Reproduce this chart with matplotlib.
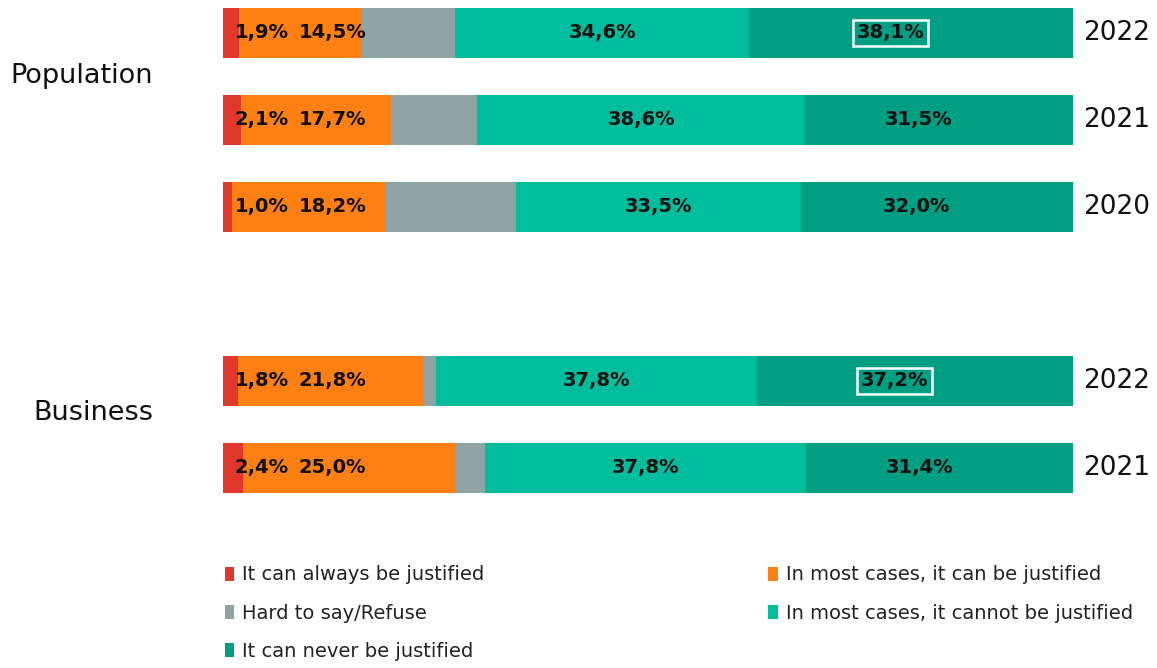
import numpy as np
import matplotlib.pyplot as plt

# Datos (%)
years = ['2022', '2021', '2020', '2022', '2021']
groups = ['Population', 'Business']
always = [1.9, 2.1, 1.0, 1.8, 2.4]
most_can = [14.5, 17.7, 18.2, 21.8, 25.0]
hard = [10.9, 10.1, 15.3, 1.4, 3.4]
most_cannot = [34.6, 38.6, 33.5, 37.8, 37.8]
never = [38.1, 31.5, 32.0, 37.2, 31.4]
boxed = [True, False, False, True, False]

series = [always, most_can, hard, most_cannot, never]
names = ['It can always be justified', 'In most cases, it can be justified',
         'Hard to say/Refuse', 'In most cases, it cannot be justified',
         'It can never be justified']
colors = ['#E0382B', '#FF8012', '#90A4A4', '#00BE9D', '#009E82']

fmt = lambda v: f'{v:.1f}%'.replace('.', ',')

fig = plt.figure(figsize=(11.57, 6.68), dpi=100)
ax = fig.add_axes([223 / 1157, 1 - 540 / 668, 850 / 1157, 540 / 668])

ypos = np.array([0, 1, 2, 4, 5])
left = np.zeros(len(ypos))
bars = []
for vals, name, col in zip(series, names, colors):
    b = ax.barh(ypos, vals, left=left, height=0.57, color=col, label=name)
    bars.append(b)
    left += np.array(vals)

lab = dict(fontsize=14, fontweight='bold', color='#111111', va='center')
for i, y in enumerate(ypos):
    ax.text(1.4, y, fmt(always[i]), ha='left', **lab)
    ax.text(8.9, y, fmt(most_can[i]), ha='left', **lab)
    start = always[i] + most_can[i] + hard[i]
    ax.text(start + most_cannot[i] / 2, y, fmt(most_cannot[i]), ha='center', **lab)
    start += most_cannot[i]
    box = dict(boxstyle='square,pad=0.2', fc='none', ec='white', lw=1.8) if boxed[i] else None
    ax.text(start + never[i] / 2 - 2.4, y, fmt(never[i]), ha='center', bbox=box, **lab)
    ax.text(101.2, y, years[i], ha='left', va='center', fontsize=19, color='#111111')

ax.text(-8.2, 0.5, groups[0], ha='right', va='center', fontsize=19.5, color='#111111')
ax.text(-8.2, 4.37, groups[1], ha='right', va='center', fontsize=19.5, color='#111111')

ax.set_xlim(0, 100)
ax.set_ylim(5.828, -0.379)
ax.axis('off')

order = [0, 2, 4, 1, 3]
fig.legend([bars[k] for k in order], [names[k] for k in order],
           loc='upper left', bbox_to_anchor=(207 / 1157, 1 - 548 / 668),
           ncol=2, frameon=False, fontsize=14, handlelength=0.5, handleheight=0.7,
           handletextpad=0.4, columnspacing=14.6, labelspacing=0.98,
           labelcolor='#222222')

plt.savefig('out.png', dpi=100)
